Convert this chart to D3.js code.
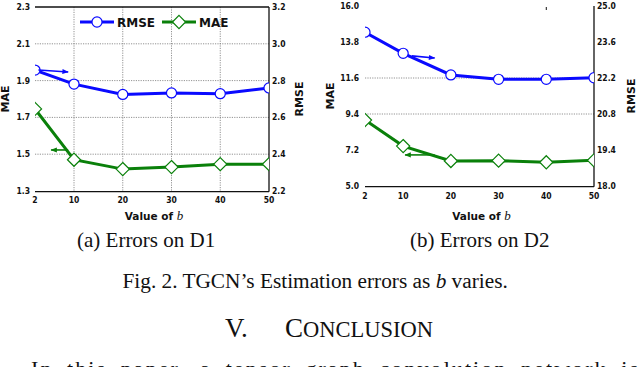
<!DOCTYPE html>
<html>
<head>
<meta charset="utf-8">
<script src="https://cdn.jsdelivr.net/npm/d3@7"></script>
<style>
  html, body { margin: 0; padding: 0; background: #fff; }
  svg { display: block; }
  .tick-label { font-family: "DejaVu Sans Condensed", "DejaVu Sans", sans-serif; font-weight: bold; font-size: 8.5px; fill: #111; }
  .axis-title { font-family: "DejaVu Sans", sans-serif; font-weight: bold; font-size: 11px; fill: #111; }
  .serif { font-family: "Liberation Serif", "Times New Roman", serif; fill: #111; }
</style>
</head>
<body>
<svg id="fig" width="640" height="367"></svg>
<script>
// values
const bValues = [2, 10, 20, 30, 40, 50];
const xTicks = [2, 10, 20, 30, 40, 50];

const d1Rmse = [2.857, 2.781, 2.725, 2.733, 2.729, 2.760];
const d1Mae = [1.746, 1.470, 1.419, 1.430, 1.446, 1.446];
const d1MaeTicks = [1.3, 1.5, 1.7, 1.9, 2.1, 2.3];
const d1RmseTicks = [2.2, 2.4, 2.6, 2.8, 3.0, 3.2];

const d2Rmse = [23.98, 23.16, 22.32, 22.15, 22.15, 22.21];
const d2Mae = [9.03, 7.44, 6.53, 6.55, 6.45, 6.57];
const d2MaeTicks = [5.0, 7.2, 9.4, 11.6, 13.8, 16.0];
const d2RmseTicks = [18.0, 19.4, 20.8, 22.2, 23.6, 25.0];

const BLUE = "#0a0aff";
const GREEN = "#0a800a";

const svg = d3.select("#fig");

// arrowheads
const defs = svg.append("defs");
[["arrBlue", BLUE], ["arrGreen", GREEN]].forEach(([id, c]) => {
    defs.append("marker")
        .attr("id", id)
        .attr("viewBox", "0 0 10 10")
        .attr("refX", 9).attr("refY", 5)
        .attr("markerWidth", 4.5).attr("markerHeight", 4)
        .attr("orient", "auto")
        .append("path")
        .attr("d", "M0,1 L10,5 L0,9 Z")
        .attr("fill", c);
});

const circleSym = d3.symbol(d3.symbolCircle, 80);
const diamondSym = d3.symbol(d3.symbolDiamond2, 110);

function drawPanel(p, idx) {
    const x = d3.scaleLinear().domain([2, 50]).range([p.x0, p.x1]);
    const yL = d3.scaleLinear().domain(d3.extent(p.maeTicks)).range([p.y1, p.y0]);
    const yR = d3.scaleLinear().domain(d3.extent(p.rmseTicks)).range([p.y1, p.y0]);

    const g = svg.append("g");

    // clip to the plot area (end markers are cut in half in the original)
    defs.append("clipPath").attr("id", "clip" + idx)
        .append("rect")
        .attr("x", p.x0).attr("y", p.y0 - 10)
        .attr("width", p.x1 - p.x0).attr("height", p.y1 - p.y0 + 20);

    // dotted grid
    g.selectAll(".hgrid")
        .data(p.hGrid)
        .join("line")
        .attr("x1", p.x0).attr("x2", p.x1)
        .attr("y1", d => yL(d)).attr("y2", d => yL(d))
        .attr("stroke", "#777").attr("stroke-width", 0.8)
        .attr("stroke-dasharray", "1.2,1.2");
    g.selectAll(".vgrid")
        .data(p.vGrid)
        .join("line")
        .attr("x1", d => x(d)).attr("x2", d => x(d))
        .attr("y1", p.y0).attr("y2", p.y1)
        .attr("stroke", "#777").attr("stroke-width", 0.8)
        .attr("stroke-dasharray", "1.2,1.2");

    // frame
    g.append("line").attr("x1", p.x0).attr("x2", p.x1).attr("y1", p.y1 + 0.7).attr("y2", p.y1 + 0.7)
        .attr("stroke", "#111").attr("stroke-width", 1.3);
    g.append("line").attr("x1", p.x1).attr("x2", p.x1).attr("y1", p.y0).attr("y2", p.y1 + 0.7)
        .attr("stroke", "#111").attr("stroke-width", 1.3);
    if (p.topLine) {
        g.append("line").attr("x1", p.x0).attr("x2", p.x1).attr("y1", p.y0).attr("y2", p.y0)
            .attr("stroke", "#111").attr("stroke-width", 1.3);
    }
    if (p.topTick != null) {
        g.append("line").attr("x1", x(p.topTick)).attr("x2", x(p.topTick))
            .attr("y1", p.y0 + 1).attr("y2", p.y0 + 4)
            .attr("stroke", "#111").attr("stroke-width", 1);
    }

    // tick labels
    g.selectAll(".lt")
        .data(p.maeTicks)
        .join("text")
        .attr("class", "tick-label")
        .attr("x", p.x0 - p.leftGap).attr("y", d => yL(d) + 3)
        .attr("text-anchor", "end")
        .text(d => d.toFixed(1));
    g.selectAll(".rt")
        .data(p.rmseTicks)
        .join("text")
        .attr("class", "tick-label")
        .attr("x", p.x1 + 3).attr("y", d => yR(d) + 3)
        .text(d => d.toFixed(1));
    g.selectAll(".xt")
        .data(xTicks)
        .join("text")
        .attr("class", "tick-label")
        .attr("x", d => x(d)).attr("y", p.xLabelY)
        .attr("text-anchor", "middle")
        .text(d => d);

    // axis titles
    g.append("text").attr("class", "axis-title")
        .attr("transform", `translate(${p.maeTitleX},${(p.y0 + p.y1) / 2}) rotate(-90)`)
        .attr("text-anchor", "middle").text("MAE");
    g.append("text").attr("class", "axis-title")
        .attr("transform", `translate(${p.rmseTitleX},${(p.y0 + p.y1) / 2}) rotate(-90)`)
        .attr("text-anchor", "middle").text("RMSE");
    const xt = g.append("text").attr("class", "axis-title")
        .attr("x", (p.x0 + p.x1) / 2 + 2).attr("y", 220)
        .attr("text-anchor", "middle")
        .style("font-size", "10.5px");
    xt.append("tspan").text("Value of ");
    xt.append("tspan").attr("class", "serif")
        .style("font-style", "italic").style("font-weight", "normal").style("font-size", "13px")
        .text("b");

    // series
    const plot = g.append("g").attr("clip-path", `url(#clip${idx})`);
    const series = [
        { vals: p.rmse, y: yR, color: BLUE, sym: circleSym },
        { vals: p.mae, y: yL, color: GREEN, sym: diamondSym }
    ];
    series.forEach(s => {
        const pts = bValues.map((b, i) => [b, s.vals[i]]);
        plot.append("path")
            .datum(pts)
            .attr("fill", "none")
            .attr("stroke", s.color)
            .attr("stroke-width", 3)
            .attr("d", d3.line().x(d => x(d[0])).y(d => s.y(d[1])));
        plot.selectAll(null)
            .data(pts)
            .join("path")
            .attr("transform", d => `translate(${x(d[0])},${s.y(d[1])})`)
            .attr("d", s.sym)
            .attr("fill", "#fff")
            .attr("stroke", s.color)
            .attr("stroke-width", 1.2);
    });

    // arrows pointing to each series' axis
    p.arrows.forEach(a => {
        const sc = a.axis === "rmse" ? yR : yL;
        g.append("line")
            .attr("x1", x(a.from[0])).attr("y1", sc(a.from[1]))
            .attr("x2", x(a.to[0])).attr("y2", sc(a.to[1]))
            .attr("stroke", a.axis === "rmse" ? BLUE : GREEN)
            .attr("stroke-width", 1.6)
            .attr("marker-end", `url(#${a.axis === "rmse" ? "arrBlue" : "arrGreen"})`);
    });

    return { x, yL, yR };
}

drawPanel({
    x0: 35, x1: 269, y0: 7, y1: 191,
    rmse: d1Rmse, mae: d1Mae,
    maeTicks: d1MaeTicks, rmseTicks: d1RmseTicks,
    hGrid: [1.5, 1.7, 1.9, 2.1], vGrid: [10, 20, 30, 40],
    topLine: true, topTick: null,
    leftGap: 5, xLabelY: 202.5,
    maeTitleX: 9, rmseTitleX: 303,
    arrows: [
        { axis: "rmse", from: [2.7, 2.858], to: [8.8, 2.847] },
        { axis: "mae", from: [8.8, 1.523], to: [5.3, 1.523] }
    ]
}, 0);

drawPanel({
    x0: 365, x1: 594, y0: 6, y1: 186,
    rmse: d2Rmse, mae: d2Mae,
    maeTicks: d2MaeTicks, rmseTicks: d2RmseTicks,
    hGrid: [9.4, 11.6], vGrid: [],
    topLine: false, topTick: 40,
    leftGap: 6, xLabelY: 198.5,
    maeTitleX: 334, rmseTitleX: 635,
    arrows: [
        { axis: "rmse", from: [11.8, 23.06], to: [16.6, 22.98] },
        { axis: "mae", from: [16.6, 6.9], to: [10.4, 6.9] }
    ]
}, 1);

// legend (inside left panel)
const leg = svg.append("g");
[
    { label: "RMSE", color: BLUE, sym: circleSym, x: 80 },
    { label: "MAE", color: GREEN, sym: diamondSym, x: 162 }
].forEach(l => {
    leg.append("line").attr("x1", l.x).attr("x2", l.x + 34).attr("y1", 22).attr("y2", 22)
        .attr("stroke", l.color).attr("stroke-width", 3);
    leg.append("path")
        .attr("transform", `translate(${l.x + 17},22)`)
        .attr("d", l.sym)
        .attr("fill", "#fff").attr("stroke", l.color).attr("stroke-width", 1.2);
    leg.append("text").attr("class", "axis-title")
        .attr("x", l.x + 37).attr("y", 26.5)
        .style("font-size", "12px")
        .text(l.label);
});

// captions and page text
svg.append("text").attr("class", "serif").attr("x", 77).attr("y", 247)
    .style("font-size", "21px").text("(a) Errors on D1");
svg.append("text").attr("class", "serif").attr("x", 410).attr("y", 247)
    .style("font-size", "21px").text("(b) Errors on D2");

const fig = svg.append("text").attr("class", "serif").attr("x", 122.5).attr("y", 288)
    .style("font-size", "21.3px");
fig.append("tspan").text("Fig. 2. TGCN\u2019s Estimation errors as ");
fig.append("tspan").style("font-style", "italic").text("b");
fig.append("tspan").text(" varies.");

svg.append("text").attr("class", "serif").attr("x", 225).attr("y", 337)
    .style("font-size", "27px").text("V.");
const head = svg.append("text").attr("class", "serif").attr("x", 285).attr("y", 337)
    .style("font-size", "27px");
head.append("tspan").text("C");
head.append("tspan").style("font-size", "22.5px").text("ONCLUSION");

svg.append("text").attr("class", "serif").attr("x", 31).attr("y", 376)
    .attr("textLength", 607).attr("lengthAdjust", "spacing")
    .style("font-size", "22px").style("word-spacing", "6px")
    .text("In this paper, a tensor graph convolution network is");
</script>
</body>
</html>
